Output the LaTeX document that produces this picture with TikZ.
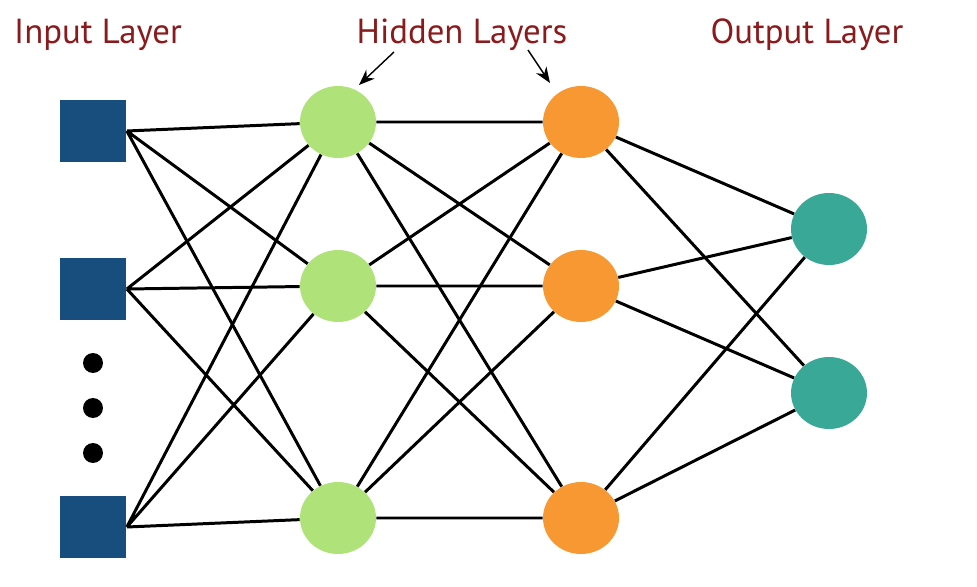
\documentclass[tikz,border=0pt]{standalone}
\usepackage{fontspec}
\setmainfont{PT Sans}
\usetikzlibrary{shapes.geometric,arrows.meta}
\definecolor{inblue}{RGB}{24,78,126}
\definecolor{hidgreen}{RGB}{176,226,122}
\definecolor{hidorange}{RGB}{247,152,50}
\definecolor{outteal}{RGB}{58,168,151}
\definecolor{labelred}{RGB}{138,26,28}
\begin{document}
\begin{tikzpicture}[x=0.02cm,y=-0.02cm,
  insq/.style={rectangle,fill=inblue,minimum width=1.34cm,minimum height=1.26cm,inner sep=0pt},
  neuron/.style={ellipse,minimum width=1.52cm,minimum height=1.44cm,inner sep=0pt},
  dotnode/.style={circle,fill=black,minimum size=0.4cm,inner sep=0pt},
  layertext/.style={anchor=base,text=labelred,font=\fontsize{19.8}{22}\selectfont},
  wire/.style={line width=1.7pt,black},
  pointer/.style={line width=0.8pt,-{Stealth[length=9pt,width=7pt]}}]
\useasboundingbox (0,0) rectangle (977,587);
\node[insq] (in1) at (93,131) {};
\node[insq] (in2) at (93,289) {};
\node[insq] (in3) at (93,527) {};
\node[dotnode] (dot1) at (93,363) {};
\node[dotnode] (dot2) at (93,408) {};
\node[dotnode] (dot3) at (93,453) {};
\node[neuron,fill=hidgreen] (ha1) at (338,122) {};
\node[neuron,fill=hidgreen] (ha2) at (338,286) {};
\node[neuron,fill=hidgreen] (ha3) at (338,518) {};
\node[neuron,fill=hidorange] (hb1) at (581,122) {};
\node[neuron,fill=hidorange] (hb2) at (581,286) {};
\node[neuron,fill=hidorange] (hb3) at (581,518) {};
\node[neuron,fill=outteal] (out1) at (829,229) {};
\node[neuron,fill=outteal] (out2) at (829,393) {};
\draw[wire] (in1.east) -- (ha1) (in1.east) -- (ha2) (in1.east) -- (ha3);
\draw[wire] (in2.east) -- (ha1) (in2.east) -- (ha2) (in2.east) -- (ha3);
\draw[wire] (in3.east) -- (ha1) (in3.east) -- (ha2) (in3.east) -- (ha3);
\draw[wire] (ha1) -- (hb1) (ha1) -- (hb2) (ha1) -- (hb3);
\draw[wire] (ha2) -- (hb1) (ha2) -- (hb2) (ha2) -- (hb3);
\draw[wire] (ha3) -- (hb1) (ha3) -- (hb2) (ha3) -- (hb3);
\draw[wire] (hb1) -- (out1) (hb1) -- (out2);
\draw[wire] (hb2) -- (out1) (hb2) -- (out2);
\draw[wire] (hb3) -- (out1) (hb3) -- (out2);
\node[layertext] (intext) at (98,44) {Input Layer};
\node[layertext] (hidtext) at (462,44) {Hidden Layers};
\node[layertext] (outtext) at (807,44) {Output Layer};
\coordinate (tipa) at (359,85);
\coordinate (tipb) at (550,83);
\draw[pointer] (394,52) -- (tipa);
\draw[pointer] (528,50) -- (tipb);
\end{tikzpicture}
\end{document}
